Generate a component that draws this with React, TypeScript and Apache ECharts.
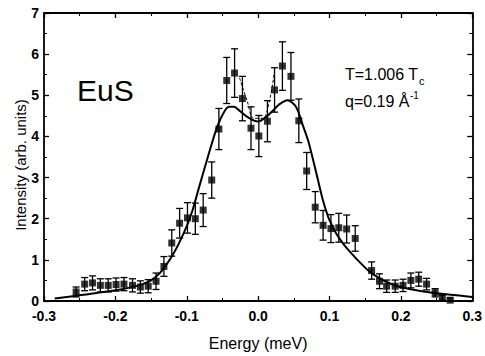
import React, { useEffect, useRef } from "react";
import * as echarts from "echarts";

// Measured data points: energy (meV), intensity (arb. units), error bar half-height
const energy = [-0.255, -0.243, -0.232, -0.221, -0.210, -0.199, -0.188, -0.176, -0.165, -0.154, -0.143, -0.132, -0.121, -0.110, -0.099, -0.088, -0.077, -0.065, -0.055, -0.044, -0.033, -0.022, -0.010, 0.001, 0.013, 0.023, 0.034, 0.046, 0.057, 0.068, 0.080, 0.091, 0.102, 0.113, 0.124, 0.136, 0.159, 0.170, 0.180, 0.192, 0.203, 0.214, 0.225, 0.236, 0.248, 0.258, 0.269];
const intensity = [0.22, 0.41, 0.44, 0.38, 0.38, 0.40, 0.41, 0.38, 0.34, 0.36, 0.48, 0.84, 1.41, 1.89, 2.02, 2.00, 2.21, 2.94, 4.18, 5.36, 5.54, 4.92, 4.20, 4.01, 4.37, 5.13, 5.71, 5.46, 4.38, 3.16, 2.28, 1.84, 1.76, 1.78, 1.75, 1.52, 0.74, 0.48, 0.36, 0.36, 0.38, 0.50, 0.53, 0.41, 0.20, 0.08, 0.02];
const errors = [0.12, 0.16, 0.17, 0.16, 0.16, 0.16, 0.16, 0.16, 0.15, 0.16, 0.20, 0.24, 0.32, 0.36, 0.37, 0.38, 0.40, 0.44, 0.50, 0.56, 0.59, 0.54, 0.52, 0.50, 0.50, 0.54, 0.59, 0.58, 0.53, 0.45, 0.38, 0.36, 0.34, 0.35, 0.34, 0.31, 0.21, 0.18, 0.15, 0.15, 0.15, 0.18, 0.17, 0.14, 0.10, 0.06, 0.05];

// Fitted curve (solid)
const fitX = [-0.285, -0.25, -0.2, -0.167, -0.15, -0.14, -0.13, -0.121, -0.111, -0.1, -0.092, -0.083, -0.073, -0.065, -0.058, -0.05, -0.041, -0.034, -0.027, -0.013, 0.0, 0.013, 0.022, 0.029, 0.041, 0.053, 0.062, 0.07, 0.076, 0.083, 0.09, 0.098, 0.104, 0.11, 0.118, 0.126, 0.142, 0.16, 0.188, 0.212, 0.244, 0.3];
const fitY = [0.06, 0.14, 0.26, 0.38, 0.5, 0.64, 0.85, 1.08, 1.4, 1.82, 2.2, 2.75, 3.35, 3.82, 4.2, 4.52, 4.72, 4.72, 4.64, 4.45, 4.36, 4.5, 4.65, 4.77, 4.88, 4.72, 4.3, 3.9, 3.5, 3.0, 2.5, 2.05, 1.82, 1.62, 1.42, 1.25, 0.95, 0.66, 0.4, 0.29, 0.2, 0.1];

// Dashed curve near the central dip
const dashX = [-0.026, -0.015, -0.006, 0.006, 0.015, 0.023];
const dashY = [5.42, 4.84, 4.44, 4.44, 4.8, 5.6];

const xTickMin = -0.3;
const xTickMax = 0.3;
const xTickStep = 0.1;
const yTickMin = 0;
const yTickMax = 7;
const yTickStep = 1;

const FONT = "Liberation Sans, Arial, Helvetica, sans-serif";

export default function App() {
  const ref = useRef<HTMLDivElement>(null);
  useEffect(() => {
    if (!ref.current) return;
    const chart = echarts.init(ref.current, undefined, { renderer: "svg" });
    const pts = energy.map((x, i) => [x, intensity[i]]);
    const errData = energy.map((x, i) => [x, intensity[i], errors[i]]);
    const fit = fitX.map((x, i) => [x, fitY[i]]);
    const dash = dashX.map((x, i) => [x, dashY[i]]);
    const axisLine = { show: true, onZero: false, lineStyle: { color: "#000", width: 1.8 } };
    const tick = { show: true, inside: true, length: 5, lineStyle: { color: "#000", width: 1.3 } };
    const minor = { show: true, splitNumber: 2, length: 3, lineStyle: { color: "#000", width: 1 } };
    chart.setOption({
      animation: false,
      backgroundColor: "#fff",
      grid: { left: 44, right: 12, top: 13, bottom: 51, containLabel: false },
      xAxis: [
        {
          type: "value",
          position: "bottom",
          min: xTickMin,
          max: xTickMax,
          interval: xTickStep,
          axisLine,
          axisTick: tick,
          minorTick: minor,
          splitLine: { show: false },
          axisLabel: {
            color: "#000",
            fontFamily: FONT,
            fontSize: 14,
            fontWeight: "bold",
            margin: 8,
            formatter: (v: number) => v.toFixed(1),
          },
          name: "Energy (meV)",
          nameLocation: "middle",
          nameGap: 34,
          nameTextStyle: { color: "#000", fontFamily: FONT, fontSize: 16 },
        },
        {
          type: "value",
          position: "top",
          min: xTickMin,
          max: xTickMax,
          interval: xTickStep,
          axisLine,
          axisTick: tick,
          minorTick: minor,
          splitLine: { show: false },
          axisLabel: { show: false },
        },
      ],
      yAxis: [
        {
          type: "value",
          position: "left",
          min: yTickMin,
          max: yTickMax,
          interval: yTickStep,
          axisLine,
          axisTick: tick,
          minorTick: minor,
          splitLine: { show: false },
          axisLabel: {
            color: "#000",
            fontFamily: FONT,
            fontSize: 14,
            fontWeight: "bold",
            margin: 5,
          },
        },
        {
          type: "value",
          position: "right",
          min: yTickMin,
          max: yTickMax,
          interval: yTickStep,
          axisLine,
          axisTick: tick,
          minorTick: minor,
          splitLine: { show: false },
          axisLabel: { show: false },
        },
      ],
      graphic: [
        {
          type: "text",
          x: 20,
          y: 165,
          rotation: Math.PI / 2,
          style: {
            text: "Intensity (arb. units)",
            fontFamily: FONT,
            fontSize: 15,
            fill: "#000",
            align: "center",
            verticalAlign: "middle",
          },
        },
        {
          type: "text",
          x: 77,
          y: 90,
          style: { text: "EuS", fontFamily: FONT, fontSize: 30, fill: "#000", align: "left", verticalAlign: "middle" },
        },
        {
          type: "text",
          x: 345,
          y: 74,
          style: { text: "T=1.006 T", fontFamily: FONT, fontSize: 16, fill: "#000", align: "left", verticalAlign: "middle" },
        },
        {
          type: "text",
          x: 419,
          y: 81,
          style: { text: "c", fontFamily: FONT, fontSize: 11, fill: "#000", align: "left", verticalAlign: "middle" },
        },
        {
          type: "text",
          x: 345,
          y: 101,
          style: { text: "q=0.19 Å", fontFamily: FONT, fontSize: 16, fill: "#000", align: "left", verticalAlign: "middle" },
        },
        {
          type: "text",
          x: 410,
          y: 95,
          style: { text: "-1", fontFamily: FONT, fontSize: 10, fill: "#000", align: "left", verticalAlign: "middle" },
        },
      ],
      series: [
        {
          type: "line",
          data: fit,
          smooth: 0.3,
          showSymbol: false,
          lineStyle: { color: "#000", width: 2 },
          z: 3,
        },
        {
          type: "line",
          data: dash,
          smooth: 0.4,
          showSymbol: false,
          lineStyle: { color: "#000", width: 1, type: [3, 2] },
          z: 3,
        },
        {
          type: "custom",
          data: errData,
          clip: true,
          z: 4,
          renderItem: (params: any, api: any) => {
            const x = api.value(0);
            const y = api.value(1);
            const e = api.value(2);
            const top = api.coord([x, y + e]);
            const bot = api.coord([x, Math.max(0, y - e)]);
            const hw = 3.5;
            const st = { stroke: "#000", lineWidth: 1.3 };
            return {
              type: "group",
              children: [
                { type: "line", shape: { x1: top[0], y1: top[1], x2: bot[0], y2: bot[1] }, style: st },
                { type: "line", shape: { x1: top[0] - hw, y1: top[1], x2: top[0] + hw, y2: top[1] }, style: st },
                { type: "line", shape: { x1: bot[0] - hw, y1: bot[1], x2: bot[0] + hw, y2: bot[1] }, style: st },
              ],
            };
          },
        },
        {
          type: "scatter",
          data: pts,
          symbol: "rect",
          symbolSize: 7,
          itemStyle: { color: "#000" },
          z: 5,
        },
      ],
    });
    return () => chart.dispose();
  }, []);
  return <div ref={ref} style={{ width: 485, height: 356, position: "absolute", left: 0, top: 0 }} />;
}
